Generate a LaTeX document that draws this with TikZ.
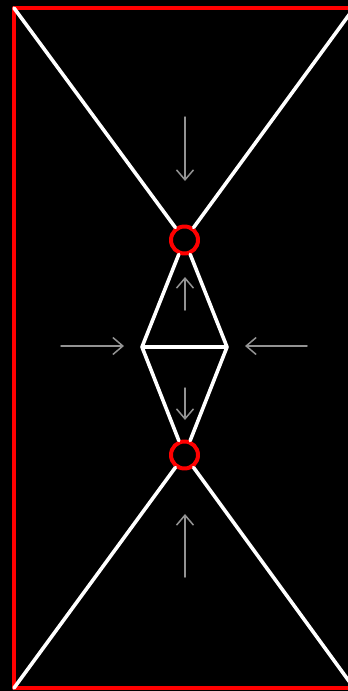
\documentclass[tikz,border=0pt]{standalone}
\usepackage{tikz}
\usetikzlibrary{arrows.meta}
\tikzset{
  every picture/.style={line join=round, line cap=round},
  wall/.style={red, line width=4pt},
  beam/.style={white, line width=3.6pt},
  joint/.style={circle, draw=red, fill=black, line width=4pt, minimum size=27pt, inner sep=0pt},
  force/.style={gray!85, line width=1.5pt, -{Straight Barb[length=10pt,width=17pt]}},
}

\begin{document}
\begin{tikzpicture}[x=1pt,y=-1pt]
\fill[black](0,0) rectangle (348,691);
\useasboundingbox (0,0) rectangle (348,691);
\clip (0,0) rectangle (348,691);
\draw[wall](14,8) rectangle (354,688);
\coordinate (tl) at (14,8);
\coordinate (tr) at (354,8);
\coordinate (bl) at (14,688);
\coordinate (br) at (354,688);
\coordinate (dl) at (142,347);
\coordinate (dr) at (227,347);
\node[joint] (top) at (184.5,240) {};
\node[joint] (bot) at (184.5,455) {};
\draw[beam](tl)--(top) (tr)--(top) (bl)--(bot) (br)--(bot);
\draw[beam](top)--(dl)--(bot) (top)--(dr)--(bot) (dl)--(dr);
% forces
\coordinate (f1s) at (185,117); \coordinate (f1e) at (185,181);
\coordinate (f2s) at (185,310); \coordinate (f2e) at (185,277);
\coordinate (f3s) at (61,346); \coordinate (f3e) at (124,346);
\coordinate (f4s) at (307,346); \coordinate (f4e) at (245,346);
\coordinate (f5s) at (185,388); \coordinate (f5e) at (185,420);
\coordinate (f6s) at (185,577); \coordinate (f6e) at (185,514);
\foreach \f in {1,...,6}
  \draw[force](f\f s)--(f\f e);
\end{tikzpicture}
\end{document}
